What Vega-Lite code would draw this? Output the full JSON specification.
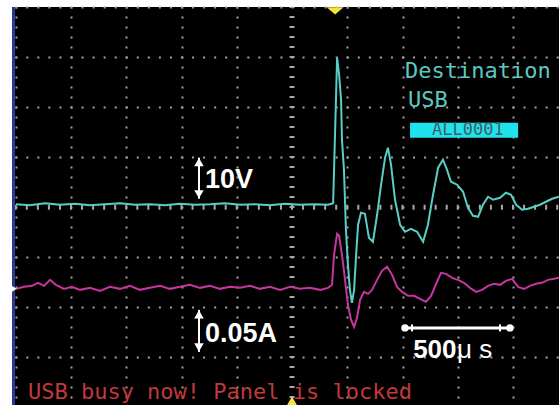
{
  "$schema": "https://vega.github.io/schema/vega-lite/v6.json",
  "width": 547,
  "height": 398,
  "autosize": "none",
  "padding": {"left": 12, "top": 7, "right": 0, "bottom": 0},
  "background": "white",
  "config": {"view": {"fill": "black", "stroke": null}},
  "datasets": {
    "ch1": [
      {"t":-1249,"v":0.06},{"t":-1186,"v":0.04},{"t":-1118,"v":0.08},{"t":-1050,"v":0.05},{"t":-982,"v":0.07},{"t":-914,"v":0.04},{"t":-846,"v":0.06},{"t":-778,"v":0.08},{"t":-710,"v":0.05},{"t":-643,"v":0.06},{"t":-575,"v":0.04},{"t":-507,"v":0.07},{"t":-439,"v":0.05},{"t":-371,"v":0.06},{"t":-303,"v":0.08},{"t":-235,"v":0.05},{"t":-167,"v":0.06},{"t":-100,"v":0.04},{"t":-32,"v":0.07},{"t":36,"v":0.05},{"t":104,"v":0.06},{"t":163,"v":0.05},{"t":186,"v":0.08},{"t":204,"v":2.99},{"t":213,"v":2.65},{"t":222,"v":2.15},{"t":226,"v":1.35},{"t":235,"v":0.75},{"t":244,"v":-0.45},{"t":253,"v":-1.15},{"t":262,"v":-1.65},{"t":271,"v":-1.91},{"t":281,"v":-1.65},{"t":290,"v":-0.95},{"t":299,"v":-0.35},{"t":312,"v":-0.11},{"t":330,"v":-0.13},{"t":348,"v":-0.61},{"t":366,"v":-0.69},{"t":385,"v":-0.15},{"t":403,"v":0.45},{"t":421,"v":0.99},{"t":434,"v":1.19},{"t":448,"v":0.85},{"t":466,"v":0.15},{"t":489,"v":-0.35},{"t":511,"v":-0.49},{"t":538,"v":-0.43},{"t":566,"v":-0.49},{"t":593,"v":-0.69},{"t":615,"v":-0.35},{"t":638,"v":0.25},{"t":661,"v":0.79},{"t":683,"v":0.95},{"t":701,"v":0.75},{"t":719,"v":0.51},{"t":747,"v":0.45},{"t":774,"v":0.31},{"t":796,"v":-0.01},{"t":819,"v":-0.17},{"t":842,"v":-0.19},{"t":864,"v":0.05},{"t":887,"v":0.21},{"t":910,"v":0.15},{"t":941,"v":0.19},{"t":968,"v":0.29},{"t":991,"v":0.25},{"t":1014,"v":0.05},{"t":1041,"v":-0.05},{"t":1068,"v":-0.03},{"t":1095,"v":0.01},{"t":1122,"v":0.05},{"t":1149,"v":0.11},{"t":1177,"v":0.17},{"t":1208,"v":0.21}
    ],
    "ch2": [
      {"t":-1249,"v":-1.63},{"t":-1213,"v":-1.59},{"t":-1177,"v":-1.57},{"t":-1149,"v":-1.51},{"t":-1122,"v":-1.57},{"t":-1095,"v":-1.45},{"t":-1068,"v":-1.55},{"t":-1032,"v":-1.63},{"t":-996,"v":-1.59},{"t":-959,"v":-1.65},{"t":-914,"v":-1.61},{"t":-869,"v":-1.67},{"t":-824,"v":-1.59},{"t":-778,"v":-1.63},{"t":-733,"v":-1.57},{"t":-688,"v":-1.65},{"t":-643,"v":-1.61},{"t":-597,"v":-1.57},{"t":-552,"v":-1.63},{"t":-507,"v":-1.59},{"t":-462,"v":-1.55},{"t":-416,"v":-1.61},{"t":-371,"v":-1.57},{"t":-326,"v":-1.63},{"t":-281,"v":-1.59},{"t":-235,"v":-1.61},{"t":-190,"v":-1.57},{"t":-145,"v":-1.63},{"t":-100,"v":-1.59},{"t":-54,"v":-1.65},{"t":-9,"v":-1.59},{"t":36,"v":-1.63},{"t":81,"v":-1.61},{"t":127,"v":-1.65},{"t":163,"v":-1.61},{"t":181,"v":-1.55},{"t":190,"v":-0.95},{"t":204,"v":-0.53},{"t":213,"v":-0.57},{"t":226,"v":-0.95},{"t":240,"v":-1.45},{"t":253,"v":-1.95},{"t":267,"v":-2.25},{"t":281,"v":-2.39},{"t":294,"v":-2.21},{"t":308,"v":-1.85},{"t":326,"v":-1.69},{"t":344,"v":-1.73},{"t":362,"v":-1.65},{"t":385,"v":-1.45},{"t":407,"v":-1.27},{"t":430,"v":-1.19},{"t":453,"v":-1.35},{"t":475,"v":-1.59},{"t":498,"v":-1.69},{"t":525,"v":-1.77},{"t":552,"v":-1.77},{"t":579,"v":-1.83},{"t":606,"v":-1.89},{"t":629,"v":-1.77},{"t":652,"v":-1.53},{"t":674,"v":-1.31},{"t":697,"v":-1.33},{"t":724,"v":-1.41},{"t":751,"v":-1.45},{"t":778,"v":-1.51},{"t":805,"v":-1.61},{"t":833,"v":-1.69},{"t":860,"v":-1.65},{"t":887,"v":-1.57},{"t":914,"v":-1.53},{"t":941,"v":-1.55},{"t":968,"v":-1.47},{"t":996,"v":-1.43},{"t":1023,"v":-1.59},{"t":1050,"v":-1.63},{"t":1077,"v":-1.57},{"t":1104,"v":-1.53},{"t":1131,"v":-1.51},{"t":1158,"v":-1.45},{"t":1186,"v":-1.43},{"t":1208,"v":-1.41}
    ]
  },
  "encoding": {
    "x": {"field": "t", "type": "quantitative",
      "scale": {"domain": [-1267, 1208], "nice": false, "zero": false},
      "axis": {"title": null, "domain": false, "ticks": false, "labels": false,
        "values": [-1250, -1000, -750, -500, -250, 250, 500, 750, 1000],
        "grid": true, "gridColor": "#a2a2a2", "gridWidth": 2, "gridDash": [2, 8], "gridDashOffset": 1}},
    "y": {"field": "v", "type": "quantitative",
      "scale": {"domain": [-3.95, 4], "nice": false, "zero": false},
      "axis": {"title": null, "domain": false, "ticks": false, "labels": false,
        "values": [-3, -2, -1, 1, 2, 3, 4],
        "grid": true, "gridColor": "#a2a2a2", "gridWidth": 2, "gridDash": [2, 9.05], "gridDashOffset": 8.3}}
  },
  "layer": [
    {
      "data": {"values": [{"t": 0, "v": 4, "v2": -3.95}]},
      "mark": {"type": "rule", "color": "#a8a8a8", "strokeWidth": 5, "strokeDash": [2, 8], "strokeDashOffset": 1},
      "encoding": {"y2": {"field": "v2"}}
    },
    {
      "data": {"values": [{"t": -1267, "t2": 1208, "v": 0}]},
      "mark": {"type": "rule", "color": "#a8a8a8", "strokeWidth": 5, "strokeDash": [2, 9.05], "strokeDashOffset": 8.3},
      "encoding": {"x2": {"field": "t2"}}
    },
    {
      "data": {"values": [{"t": -1260, "v": 4, "v2": -3.95}]},
      "mark": {"type": "rule", "color": "#2b3990", "strokeWidth": 3},
      "encoding": {"y2": {"field": "v2"}}
    },
    {
      "data": {"name": "ch2"},
      "mark": {"type": "line", "color": "#c8359f", "strokeWidth": 2}
    },
    {
      "data": {"name": "ch1"},
      "mark": {"type": "line", "color": "#58cfc6", "strokeWidth": 2}
    },
    {
      "data": {"values": [{"t": -1257, "v": -1.63}]},
      "mark": {"type": "point", "shape": "triangle-right", "filled": true, "color": "white", "size": 40, "opacity": 1}
    },
    {
      "data": {"values": [{"t": -421, "v": 0.99, "v2": 0.17}, {"t": -421, "v": -2.05, "v2": -2.89}]},
      "mark": {"type": "rule", "color": "white", "strokeWidth": 2},
      "encoding": {"y2": {"field": "v2"}}
    },
    {
      "data": {"values": [{"t": -421, "v": 0.9}, {"t": -421, "v": -2.14}]},
      "mark": {"type": "point", "shape": "triangle-up", "filled": true, "color": "white", "size": 90, "opacity": 1}
    },
    {
      "data": {"values": [{"t": -421, "v": 0.26}, {"t": -421, "v": -2.8}]},
      "mark": {"type": "point", "shape": "triangle-down", "filled": true, "color": "white", "size": 90, "opacity": 1}
    },
    {
      "data": {"values": [{"t": -394, "v": 0.39, "label": "10V"}, {"t": -394, "v": -2.69, "label": "0.05A"}]},
      "mark": {"type": "text", "align": "left", "baseline": "alphabetic", "font": "Liberation Sans", "fontWeight": "bold", "fontSize": 27, "color": "white"},
      "encoding": {"text": {"field": "label"}}
    },
    {
      "data": {"values": [{"t": 511, "t2": 986, "v": -2.41}]},
      "mark": {"type": "rule", "color": "white", "strokeWidth": 3},
      "encoding": {"x2": {"field": "t2"}}
    },
    {
      "data": {"values": [{"t": 511, "v": -2.41}, {"t": 986, "v": -2.41}]},
      "mark": {"type": "point", "shape": "circle", "filled": true, "color": "white", "size": 55, "opacity": 1}
    },
    {
      "data": {"values": [{"t": 543, "v": -2.34, "v2": -2.48}, {"t": 941, "v": -2.34, "v2": -2.48}]},
      "mark": {"type": "rule", "color": "white", "strokeWidth": 2},
      "encoding": {"y2": {"field": "v2"}}
    },
    {
      "data": {"values": [{"t": 548, "v": -3.01, "label": "500"}]},
      "mark": {"type": "text", "align": "left", "baseline": "alphabetic", "font": "Liberation Sans", "fontWeight": "bold", "fontSize": 26, "color": "white"},
      "encoding": {"text": {"field": "label"}}
    },
    {
      "data": {"values": [{"t": 747, "v": -3.01, "label": "μ s"}]},
      "mark": {"type": "text", "align": "left", "baseline": "alphabetic", "font": "Liberation Sans", "fontSize": 26, "color": "white"},
      "encoding": {"text": {"field": "label"}}
    },
    {
      "data": {"values": [{"t": 511, "v": 2.59, "label": "Destination"}, {"t": 525, "v": 2.01, "label": "USB"}]},
      "mark": {"type": "text", "align": "left", "baseline": "alphabetic", "font": "DejaVu Sans Mono", "fontSize": 22, "color": "#5cc9c1"},
      "encoding": {"text": {"field": "label"}}
    },
    {
      "data": {"values": [{"t": 534, "t2": 1023, "v": 1.69, "v2": 1.39}]},
      "mark": {"type": "rect", "color": "#1fe3ec"},
      "encoding": {"x2": {"field": "t2"}, "y2": {"field": "v2"}}
    },
    {
      "data": {"values": [{"t": 796, "v": 1.44, "label": "ALL0001"}]},
      "mark": {"type": "text", "align": "center", "baseline": "alphabetic", "font": "DejaVu Sans Mono", "fontSize": 17, "color": "#3f5f66"},
      "encoding": {"text": {"field": "label"}}
    },
    {
      "data": {"values": [{"t": -1195, "v": -3.83, "label": "USB busy now! Panel is locked"}]},
      "mark": {"type": "text", "align": "left", "baseline": "alphabetic", "font": "DejaVu Sans Mono", "fontSize": 22, "color": "#c0393b"},
      "encoding": {"text": {"field": "label"}}
    },
    {
      "data": {"values": [{"t": 195, "v": 3.92}]},
      "mark": {"type": "point", "shape": "M-1,-0.45L1,-0.45L0,0.4Z", "filled": true, "color": "#f5e23a", "size": 289, "opacity": 1}
    },
    {
      "data": {"values": [{"t": 0, "v": -3.87}]},
      "mark": {"type": "point", "shape": "triangle-up", "filled": true, "color": "#f5e23a", "size": 110, "opacity": 1}
    }
  ]
}
